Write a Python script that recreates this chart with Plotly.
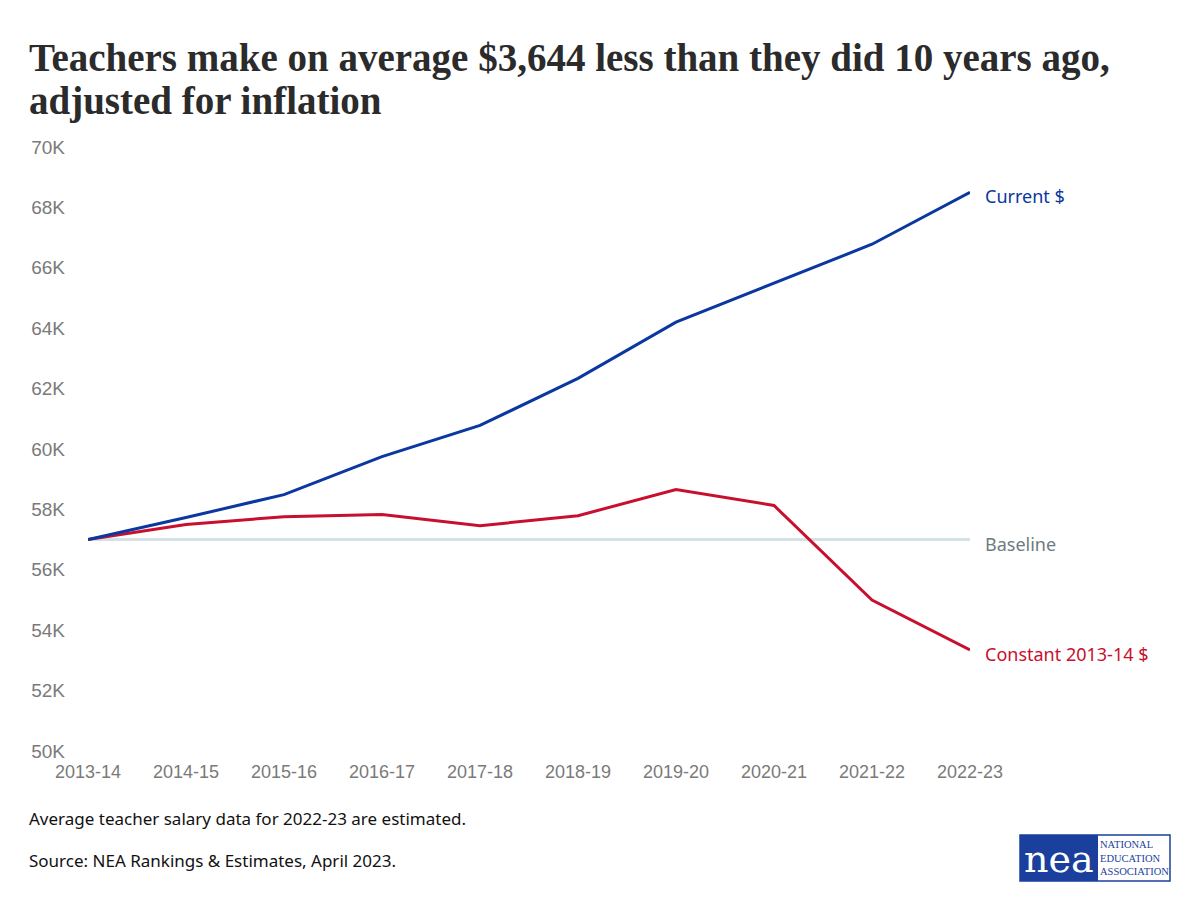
import plotly.graph_objects as go

years = ["2013-14", "2014-15", "2015-16", "2016-17", "2017-18",
         "2018-19", "2019-20", "2020-21", "2021-22", "2022-23"]
current = [57000, 57730, 58490, 59750, 60780, 62340, 64200, 65490, 66780, 68500]
constant = [57000, 57500, 57760, 57830, 57460, 57790, 58660, 58130, 55000, 53350]
baseline = [57000] * len(years)

y_ticks = [50000, 52000, 54000, 56000, 58000, 60000, 62000, 64000, 66000, 68000, 70000]
y_labels = ["50K", "52K", "54K", "56K", "58K", "60K", "62K", "64K", "66K", "68K", "70K"]

BLUE = "#0a37a0"
RED = "#c8102e"
BASE = "#d5e2e5"
BASE_TXT = "#6e7b80"

W, H = 1200, 914
OFF = 8  # page body margin
L, R = 88, 970
T, B = 147, 751


def px(x):
    return (x - L) / (R - L)


def py(y):
    return (B - y) / (B - T)


fig = go.Figure()
fig.add_trace(go.Scatter(x=years, y=baseline, mode="lines",
                         line=dict(color=BASE, width=3), name="Baseline",
                         hoverinfo="skip"))
fig.add_trace(go.Scatter(x=years, y=constant, mode="lines",
                         line=dict(color=RED, width=3), name="Constant 2013-14 $"))
fig.add_trace(go.Scatter(x=years, y=current, mode="lines",
                         line=dict(color=BLUE, width=3), name="Current $"))

ann_font = "Noto Sans, Open Sans, sans-serif"
for name, vals, col, dy in [("Current $", current, BLUE, -4),
                            ("Baseline", baseline, BASE_TXT, -4),
                            ("Constant 2013-14 $", constant, RED, -4)]:
    fig.add_annotation(x=years[-1], y=vals[-1], xref="x", yref="y", text=name,
                       showarrow=False, xanchor="left", yanchor="middle",
                       xshift=13, yshift=dy,
                       font=dict(family=ann_font, size=18, color=col))

# title (two lines)
title_font = dict(family="Liberation Serif, DejaVu Serif, serif", size=39,
                  color="#2b2b2b", weight="bold")
fig.add_annotation(xref="paper", yref="paper", x=px(27), y=py(58),
                   text="Teachers make on average $3,644 less than they did 10 years ago,",
                   showarrow=False, xanchor="left", yanchor="middle", font=title_font)
fig.add_annotation(xref="paper", yref="paper", x=px(27), y=py(101),
                   text="adjusted for inflation",
                   showarrow=False, xanchor="left", yanchor="middle", font=title_font)

# footer notes
fig.add_annotation(xref="paper", yref="paper", x=px(27), y=py(818),
                   text="Average teacher salary data for 2022-23 are estimated.",
                   showarrow=False, xanchor="left", yanchor="middle",
                   font=dict(family=ann_font, size=17, color="#111111"))
fig.add_annotation(xref="paper", yref="paper", x=px(27), y=py(860),
                   text="Source: NEA Rankings & Estimates, April 2023.",
                   showarrow=False, xanchor="left", yanchor="middle",
                   font=dict(family=ann_font, size=17, color="#111111"))

# logo
LOGO_BLUE = "#1a3f9c"
fig.add_shape(type="rect", xref="paper", yref="paper",
              x0=px(1020), x1=px(1170), y0=py(881), y1=py(835),
              line=dict(color=LOGO_BLUE, width=1.5), fillcolor="white")
fig.add_shape(type="rect", xref="paper", yref="paper",
              x0=px(1020), x1=px(1098), y0=py(881), y1=py(835),
              line=dict(color=LOGO_BLUE, width=0), fillcolor=LOGO_BLUE)
fig.add_annotation(xref="paper", yref="paper", x=px(1059), y=py(859), text="nea",
                   showarrow=False, xanchor="center", yanchor="middle",
                   font=dict(family="DejaVu Serif, serif", size=38, color="white"))
fig.add_annotation(xref="paper", yref="paper", x=px(1134), y=py(858),
                   text="NATIONAL<br>EDUCATION<br>ASSOCIATION",
                   showarrow=False, xanchor="center", yanchor="middle", align="left",
                   font=dict(family="Liberation Serif, serif", size=10.5, color=LOGO_BLUE))

fig.update_layout(
    width=W - OFF, height=H - OFF,
    margin=dict(l=L - OFF, r=W - R, t=T - OFF, b=H - B),
    paper_bgcolor="white", plot_bgcolor="white",
    showlegend=False,
    xaxis=dict(type="category", range=[0, 9], showgrid=False, zeroline=False,
               showline=False, ticks="", tickfont=dict(family="Liberation Sans, Arial, sans-serif",
                                                          size=18, color="#7a7a7a"),
               ticklabelstandoff=8),
    yaxis=dict(range=[50000, 70000], tickvals=y_ticks, ticktext=y_labels,
               showgrid=False, zeroline=False, showline=False, ticks="",
               tickfont=dict(family="Liberation Sans, Arial, sans-serif", size=19, color="#7a7a7a"),
               ticklabelstandoff=22),
)

fig.write_html("out.html")
